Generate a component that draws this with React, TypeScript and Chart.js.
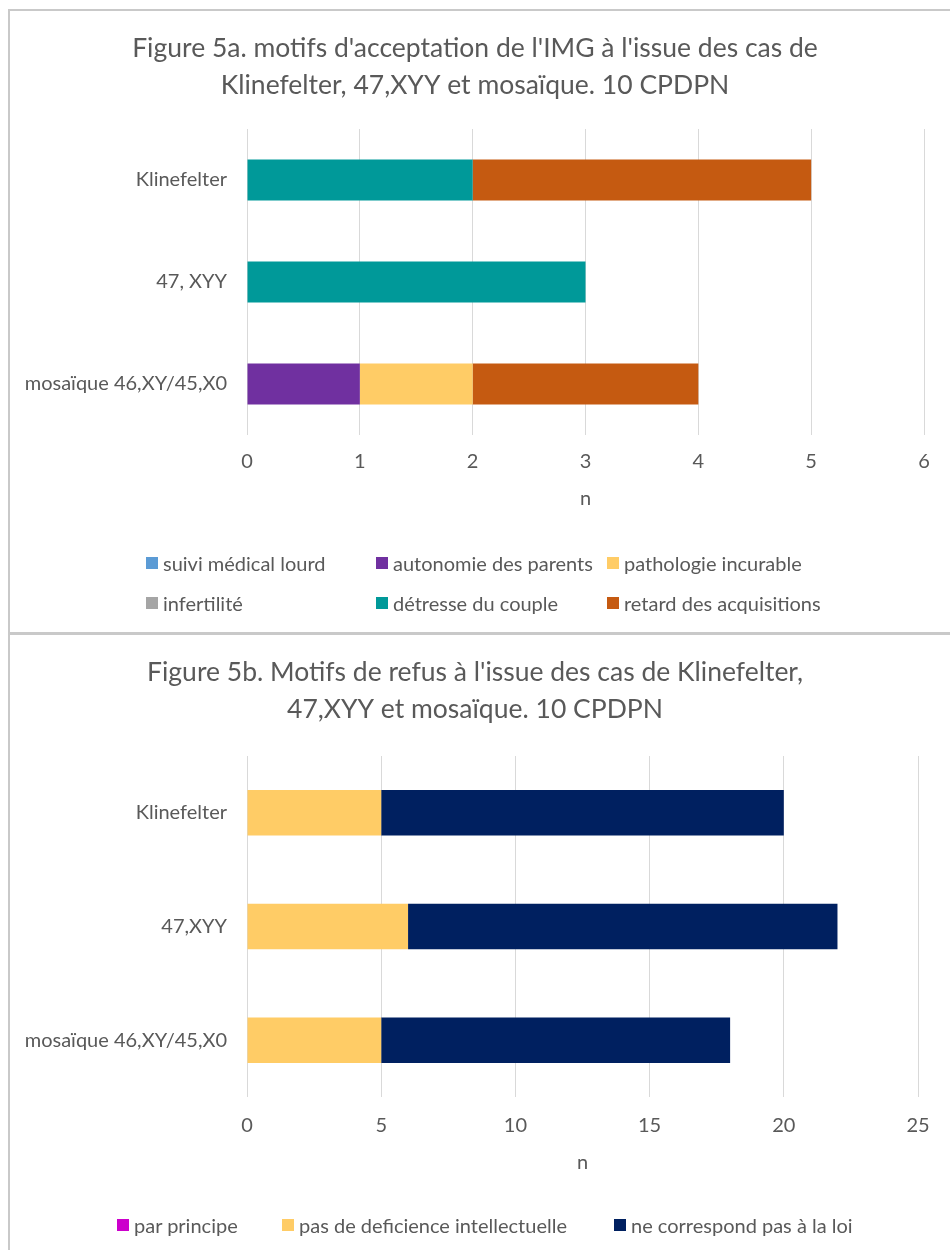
import React, { useEffect, useRef } from "react";
import { Chart, registerables } from "chart.js";

Chart.register(...registerables);

// ---------- Data: Figure 5a ----------
const categories1 = ["Klinefelter", "47, XYY", "mosaïque 46,XY/45,X0"];
const seriesNames1 = [
  "suivi médical lourd",
  "autonomie des parents",
  "pathologie incurable",
  "infertilité",
  "détresse du couple",
  "retard des acquisitions",
];
const suiviMedicalLourd = [0, 0, 0];
const autonomieDesParents = [0, 0, 1];
const pathologieIncurable = [0, 0, 1];
const infertilite = [0, 0, 0];
const detresseDuCouple = [2, 3, 0];
const retardDesAcquisitions = [3, 0, 2];
const colors1 = ["#5B9BD5", "#7030A0", "#FFCC66", "#A5A5A5", "#009999", "#C55A11"];
const title1 = [
  "Figure 5a. motifs d'acceptation de l'IMG à l'issue des cas de",
  "Klinefelter, 47,XYY et mosaïque. 10 CPDPN",
];
const xMax1 = 6;
const xStep1 = 1;

// ---------- Data: Figure 5b ----------
const categories2 = ["Klinefelter", "47,XYY", "mosaïque 46,XY/45,X0"];
const seriesNames2 = ["par principe", "pas de deficience intellectuelle", "ne correspond pas à la loi"];
const parPrincipe = [0, 0, 0];
const pasDeDeficience = [5, 6, 5];
const neCorrespondPas = [15, 16, 13];
const colors2 = ["#CC00CC", "#FFCC66", "#002060"];
const title2 = [
  "Figure 5b. Motifs de refus à l'issue des cas de Klinefelter,",
  "47,XYY et mosaïque. 10 CPDPN",
];
const xMax2 = 25;
const xStep2 = 5;

const axisTitle = "n";
const TEXT = "#595959";
const FONT = "Lato, 'Open Sans', sans-serif";

type Geom = {
  width: number;
  height: number;
  rightGap: number;
  padBottom: number;
  titleTop: number;
  titleBottom: number;
  tickPad: number;
  xAxisH: number;
  plotLeft: number;
};

function makeConfig(
  labels: string[],
  names: string[],
  values: number[][],
  colors: string[],
  title: string[],
  xMax: number,
  step: number,
  g: Geom
): any {
  return {
    type: "bar",
    data: {
      labels,
      datasets: names.map((n, i) => ({
        label: n,
        data: values[i],
        backgroundColor: colors[i],
        borderWidth: 0,
        barPercentage: 0.4,
        categoryPercentage: 1,
      })),
    },
    options: {
      indexAxis: "y",
      responsive: false,
      maintainAspectRatio: false,
      animation: false,
      layout: { padding: { left: 0, right: 0, top: 0, bottom: g.padBottom } },
      plugins: {
        legend: { display: false },
        tooltip: { enabled: false },
        title: {
          display: true,
          text: title,
          color: TEXT,
          font: { family: FONT, size: 26.5, weight: "normal", lineHeight: 1.415 },
          padding: { top: g.titleTop, bottom: g.titleBottom },
        },
      },
      scales: {
        x: {
          stacked: true,
          min: 0,
          max: xMax,
          ticks: { stepSize: step, color: TEXT, font: { family: FONT, size: 20 }, padding: g.tickPad },
          grid: { color: "#D9D9D9", drawTicks: false, lineWidth: 1 },
          border: { display: false },
          title: {
            display: true,
            text: axisTitle,
            color: TEXT,
            font: { family: FONT, size: 20 },
            padding: 0,
          },
          afterFit: (s: any) => {
            s.height = g.xAxisH;
          },
        },
        y: {
          stacked: true,
          grid: { display: false },
          border: { display: false },
          ticks: { color: TEXT, font: { family: FONT, size: 20 }, padding: 12 },
          afterFit: (s: any) => {
            s.width = g.plotLeft;
          },
        },
        // empty right-hand spacer so that the plot ends where the reference's does
        yRight: {
          type: "category",
          axis: "y",
          position: "right",
          grid: { display: false },
          border: { display: false },
          ticks: { display: false },
          afterFit: (s: any) => {
            s.width = g.rightGap;
          },
        },
      },
    },
  };
}

function ChartCanvas({ config, g, top }: { config: any; g: Geom; top: number }) {
  const ref = useRef<HTMLCanvasElement | null>(null);
  useEffect(() => {
    if (!ref.current) return;
    const chart = new Chart(ref.current, config);
    return () => chart.destroy();
  }, []);
  return (
    <canvas
      ref={ref}
      width={g.width}
      height={g.height}
      style={{ position: "absolute", left: 0, top, width: g.width, height: g.height }}
    />
  );
}

function Legend({
  names,
  colors,
  positions,
}: {
  names: string[];
  colors: string[];
  positions: { left: number; top: number }[];
}) {
  return (
    <>
      {names.map((n, i) => (
        <div
          key={n}
          style={{
            position: "absolute",
            left: positions[i].left,
            top: positions[i].top - 12,
            height: 24,
            display: "flex",
            alignItems: "center",
            fontFamily: FONT,
            fontSize: 20,
            color: TEXT,
            whiteSpace: "nowrap",
          }}
        >
          <span
            style={{ display: "inline-block", width: 12, height: 12, background: colors[i], marginRight: 5 }}
          />
          <span>{n}</span>
        </div>
      ))}
    </>
  );
}

// Title line height 26.5 * 1.415 = 37.5
const geom1: Geom = {
  width: 950,
  height: 625,
  rightGap: 26,
  padBottom: 124,
  titleTop: 19.25,
  titleBottom: 24.75,
  tickPad: 15,
  xAxisH: 76,
  plotLeft: 247,
};

const geom2: Geom = {
  width: 950,
  height: 615,
  rightGap: 32,
  padBottom: 75,
  titleTop: 18.25,
  titleBottom: 27.75,
  tickPad: 17,
  xAxisH: 78,
  plotLeft: 247,
};

const legend1Pos = [
  { left: 146, top: 563 },
  { left: 376, top: 563 },
  { left: 607, top: 563 },
  { left: 146, top: 603 },
  { left: 376, top: 603 },
  { left: 607, top: 603 },
];
const legend2Pos = [
  { left: 117, top: 1225 },
  { left: 282, top: 1225 },
  { left: 614, top: 1225 },
];

export default function App() {
  const config1 = makeConfig(
    categories1,
    seriesNames1,
    [suiviMedicalLourd, autonomieDesParents, pathologieIncurable, infertilite, detresseDuCouple, retardDesAcquisitions],
    colors1,
    title1,
    xMax1,
    xStep1,
    geom1
  );
  const config2 = makeConfig(
    categories2,
    seriesNames2,
    [parPrincipe, pasDeDeficience, neCorrespondPas],
    colors2,
    title2,
    xMax2,
    xStep2,
    geom2
  );
  return (
    <div
      style={{
        position: "absolute",
        left: 0,
        top: 0,
        width: 950,
        height: 1250,
        background: "#FFFFFF",
        overflow: "hidden",
      }}
    >
      <div
        style={{
          position: "absolute",
          left: 8,
          top: 9,
          width: 1000,
          height: 625,
          border: "2px solid #C9C9C9",
          boxSizing: "border-box",
        }}
      />
      <div
        style={{
          position: "absolute",
          left: 8,
          top: 633,
          width: 1000,
          height: 700,
          border: "2px solid #C9C9C9",
          boxSizing: "border-box",
        }}
      />
      <ChartCanvas config={config1} g={geom1} top={10} />
      <ChartCanvas config={config2} g={geom2} top={635} />
      <Legend names={seriesNames1} colors={colors1} positions={legend1Pos} />
      <Legend names={seriesNames2} colors={colors2} positions={legend2Pos} />
    </div>
  );
}
